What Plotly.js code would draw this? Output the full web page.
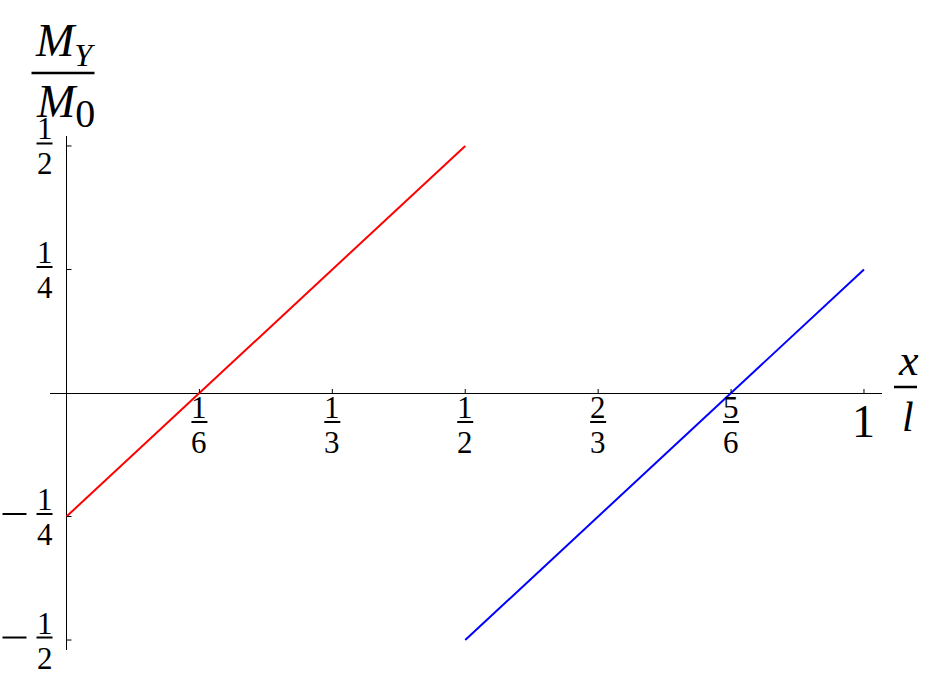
<!DOCTYPE html>
<html>
<head>
<meta charset="utf-8">
<script src="https://cdn.plot.ly/plotly-3.0.1.min.js"></script>
<style>html,body{margin:0;padding:0;background:#fff;}#chart{width:928px;height:696px;}</style>
</head>
<body>
<div id="chart"></div>
<script>
// Data
var redX = [0, 0.5];
var redY = [-0.25, 0.5];
var blueX = [0.5, 1];
var blueY = [-0.5, 0.25];

var xTickVals = [1/6, 1/3, 1/2, 2/3, 5/6];
var xTickNum = ['1', '1', '1', '2', '5'];
var xTickDen = ['6', '3', '2', '3', '6'];
var xEndVal = 1;
var xEndLabel = '1';

var yTickVals = [0.5, 0.25, -0.25, -0.5];
var yTickNum = ['1', '1', '1', '1'];
var yTickDen = ['2', '4', '4', '2'];
var yTickNeg = [false, false, true, true];

var xRange = [-0.0207, 1.0226];
var yRange = [-0.5202, 0.5202];

var SERIF = 'Liberation Serif';
var annotations = [];
var shapes = [];
var x0Paper = (0 - xRange[0]) / (xRange[1] - xRange[0]);

// x ticks (fractions)
xTickVals.forEach(function (v, i) {
  shapes.push({type: 'line', xref: 'x', yref: 'y', x0: v, x1: v, ysizemode: 'pixel', yanchor: 0, y0: 0, y1: 4,
    line: {color: '#000', width: 1}});
  shapes.push({type: 'line', xref: 'x', yref: 'y', xsizemode: 'pixel', xanchor: v, x0: -8, x1: 8,
    ysizemode: 'pixel', yanchor: 0, y0: -29, y1: -29, line: {color: '#000', width: 2}});
  annotations.push({xref: 'x', yref: 'y', x: v, y: 0, text: xTickNum[i], showarrow: false,
    xanchor: 'center', yanchor: 'middle', yshift: -14, font: {family: SERIF, size: 31, color: '#000'}});
  annotations.push({xref: 'x', yref: 'y', x: v, y: 0, text: xTickDen[i], showarrow: false,
    xanchor: 'center', yanchor: 'middle', yshift: -49, font: {family: SERIF, size: 31, color: '#000'}});
});
// x end tick "1"
shapes.push({type: 'line', xref: 'x', yref: 'y', x0: xEndVal, x1: xEndVal, ysizemode: 'pixel', yanchor: 0, y0: 0, y1: 4,
  line: {color: '#000', width: 1}});
annotations.push({xref: 'x', yref: 'y', x: xEndVal, y: 0, text: xEndLabel, showarrow: false,
  xanchor: 'center', yanchor: 'middle', yshift: -28, font: {family: SERIF, size: 46, color: '#000'}});

// y ticks (fractions)
yTickVals.forEach(function (v, i) {
  shapes.push({type: 'line', xref: 'x', yref: 'y', xsizemode: 'pixel', xanchor: 0, x0: 0, x1: 5, y0: v, y1: v,
    line: {color: '#000', width: 1}});
  shapes.push({type: 'line', xref: 'paper', yref: 'y', xsizemode: 'pixel', xanchor: x0Paper, x0: -30, x1: -14,
    ysizemode: 'pixel', yanchor: v, y0: 2.5, y1: 2.5, line: {color: '#000', width: 2}});
  annotations.push({xref: 'x', yref: 'y', x: 0, y: v, text: yTickNum[i], showarrow: false,
    xanchor: 'center', yanchor: 'middle', xshift: -22, yshift: 17, font: {family: SERIF, size: 31, color: '#000'}});
  annotations.push({xref: 'x', yref: 'y', x: 0, y: v, text: yTickDen[i], showarrow: false,
    xanchor: 'center', yanchor: 'middle', xshift: -22, yshift: -18, font: {family: SERIF, size: 31, color: '#000'}});
  if (yTickNeg[i]) {
    shapes.push({type: 'line', xref: 'paper', yref: 'y', xsizemode: 'pixel', xanchor: x0Paper, x0: -64, x1: -40,
      ysizemode: 'pixel', yanchor: v, y0: 2.5, y1: 2.5, line: {color: '#000', width: 2}});
  }
});

// axis titles
annotations.push({xref: 'x', yref: 'paper', x: 0, y: 1, xshift: -2, yshift: 92,
  text: '<i>M</i><sub><i>Y</i></sub>',
  showarrow: false, xanchor: 'center', yanchor: 'middle', font: {family: SERIF, size: 46, color: '#000'}});
shapes.push({type: 'line', xref: 'paper', yref: 'paper', xsizemode: 'pixel', xanchor: x0Paper, x0: -35, x1: 28,
  ysizemode: 'pixel', yanchor: 1, y0: 63, y1: 63, line: {color: '#000', width: 2.5}});
annotations.push({xref: 'x', yref: 'paper', x: 0, y: 1, xshift: -1, yshift: 30,
  text: '<i>M</i><sub><span style="font-size:40px">0</span></sub>',
  showarrow: false, xanchor: 'center', yanchor: 'middle', font: {family: SERIF, size: 46, color: '#000'}});

annotations.push({xref: 'paper', yref: 'y', x: 1, y: 0, xshift: 26, yshift: 33, text: '<i>x</i>',
  showarrow: false, xanchor: 'center', yanchor: 'middle', font: {family: SERIF, size: 44, color: '#000'}});
shapes.push({type: 'line', xref: 'paper', yref: 'y', xsizemode: 'pixel', xanchor: 1, x0: 12, x1: 35,
  ysizemode: 'pixel', yanchor: 0, y0: 6, y1: 6, line: {color: '#000', width: 2.5}});
annotations.push({xref: 'paper', yref: 'y', x: 1, y: 0, xshift: 26, yshift: -24, text: '<i>l</i>',
  showarrow: false, xanchor: 'center', yanchor: 'middle', font: {family: SERIF, size: 42, color: '#000'}});

var traces = [
  {x: redX, y: redY, mode: 'lines', line: {color: '#ff0000', width: 2}, hoverinfo: 'skip', showlegend: false},
  {x: blueX, y: blueY, mode: 'lines', line: {color: '#0000ff', width: 2}, hoverinfo: 'skip', showlegend: false}
];

var layout = {
  width: 928, height: 696,
  margin: {l: 50, r: 46, t: 136, b: 46, pad: 0},
  paper_bgcolor: '#fff', plot_bgcolor: '#fff',
  font: {family: SERIF},
  showlegend: false,
  xaxis: {range: xRange, showgrid: false, showline: false, showticklabels: false, ticks: '',
    zeroline: true, zerolinecolor: '#000', zerolinewidth: 1, fixedrange: true},
  yaxis: {range: yRange, showgrid: false, showline: false, showticklabels: false, ticks: '',
    zeroline: true, zerolinecolor: '#000', zerolinewidth: 1, fixedrange: true},
  shapes: shapes,
  annotations: annotations
};

Plotly.newPlot('chart', traces, layout, {displayModeBar: false, staticPlot: true});
</script>
</body>
</html>
